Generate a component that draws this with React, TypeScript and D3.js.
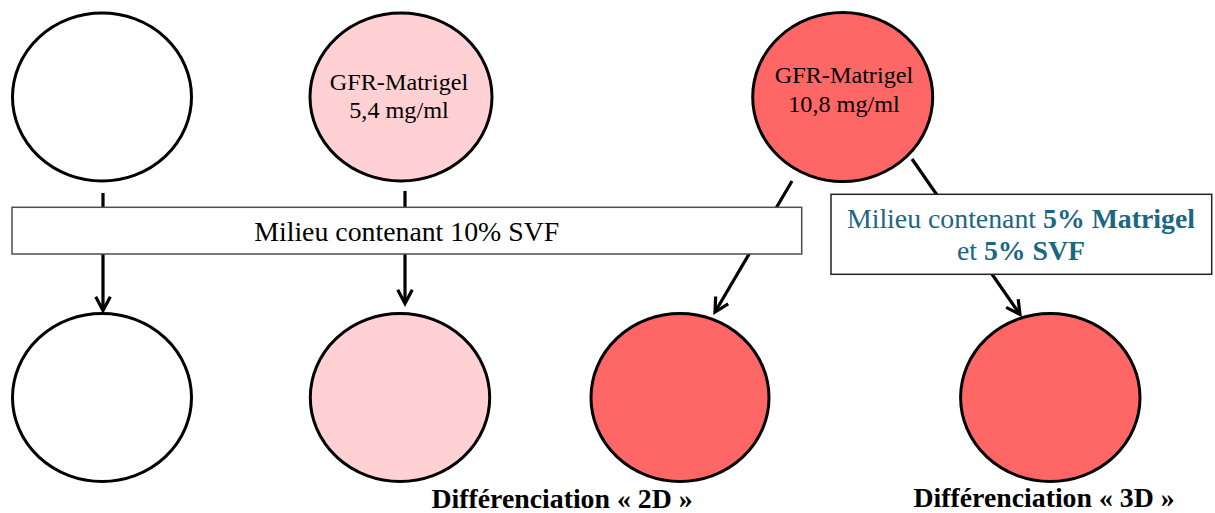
import React from "react";
import * as d3 from "d3";

// ---- content ----
const topLabels: string[][] = [[], ["GFR-Matrigel", "5,4 mg/ml"], ["GFR-Matrigel", "10,8 mg/ml"]];
const topFills = ["#FFFFFF", "#FFD1D4", "#FF6666"];
const bottomFills = ["#FFFFFF", "#FFD1D4", "#FF6666", "#FF6666"];
const box1Text = "Milieu contenant 10% SVF";
const box2Line1 = [{ t: "Milieu contenant ", b: false }, { t: "5% Matrigel", b: true }];
const box2Line2 = [{ t: "et ", b: false }, { t: "5% SVF", b: true }];
const bottomLabels = ["Différenciation « 2D »", "Différenciation « 3D »"];

// ---- layout ----
const W = 1215, H = 513;
const topCircles = [
  { cx: 102, cy: 97, rx: 89.5, ry: 84 },
  { cx: 401, cy: 97, rx: 91, ry: 84 },
  { cx: 842.7, cy: 97, rx: 90, ry: 84.5 },
];
const bottomCircles = [
  { cx: 102, cy: 397.5, rx: 89.5, ry: 84 },
  { cx: 400, cy: 397.5, rx: 89.7, ry: 84 },
  { cx: 680, cy: 397.5, rx: 89, ry: 84 },
  { cx: 1050.3, cy: 397.5, rx: 89.7, ry: 84 },
];
const arrows = [
  { x1: 103, y1: 193, x2: 103, y2: 310.5 },
  { x1: 405, y1: 191, x2: 405, y2: 303.5 },
  { x1: 792, y1: 181, x2: 715, y2: 312 },
  { x1: 912, y1: 159, x2: 1020, y2: 314.5 },
];
const topTextPos = [
  null,
  { x: 399, y: [89.5, 117.5] },
  { x: 844, y: [83.3, 111.7] },
];
const SX = 1.03;
const serif = "'Liberation Serif', 'Times New Roman', serif";
const teal = "#1B6684";

const line = d3.line<[number, number]>();

function Arrow({ a }: { a: { x1: number; y1: number; x2: number; y2: number } }) {
  const ang = Math.atan2(a.y2 - a.y1, a.x2 - a.x1);
  const L = 15.5, spread = (28 * Math.PI) / 180;
  const p1: [number, number] = [a.x2 - L * Math.cos(ang - spread), a.y2 - L * Math.sin(ang - spread)];
  const p2: [number, number] = [a.x2 - L * Math.cos(ang + spread), a.y2 - L * Math.sin(ang + spread)];
  return (
    <g stroke="#000" strokeWidth={3.2} fill="none">
      <path d={line([[a.x1, a.y1], [a.x2 - 1.5 * Math.cos(ang), a.y2 - 1.5 * Math.sin(ang)]]) || ""} />
      <path d={line([p1, [a.x2, a.y2], p2]) || ""} strokeLinejoin="miter" />
    </g>
  );
}

export default function App() {
  return (
    <div style={{ position: "absolute", left: 0, top: 0 }}>
      <svg width={W} height={H} viewBox={`0 0 ${W} ${H}`} style={{ display: "block", background: "#fff" }}>
        {arrows.map((a, i) => <Arrow key={i} a={a} />)}
        {/* box 1 */}
        <rect x={12} y={207.3} width={789.7} height={46.7} fill="#fff" stroke="#4d4d4d" strokeWidth={1.5} />
        <text transform={`translate(406.7,241) scale(${SX},1)`} textAnchor="middle" fontFamily={serif} fontSize={27} fill="#000">{box1Text}</text>
        {/* box 2 */}
        <rect x={831} y={194.3} width={380.7} height={80} fill="#fff" stroke="#222" strokeWidth={1.5} />
        <text transform={`translate(1021,227.5) scale(${SX},1)`} textAnchor="middle" fontFamily={serif} fontSize={27} fill={teal}>
          {box2Line1.map((s, i) => <tspan key={i} fontWeight={s.b ? "bold" : "normal"}>{s.t}</tspan>)}
        </text>
        <text transform={`translate(1021,260) scale(${SX},1)`} textAnchor="middle" fontFamily={serif} fontSize={27} fill={teal}>
          {box2Line2.map((s, i) => <tspan key={i} fontWeight={s.b ? "bold" : "normal"}>{s.t}</tspan>)}
        </text>
        {/* circles */}
        {topCircles.map((c, i) => (
          <ellipse key={"t" + i} cx={c.cx} cy={c.cy} rx={c.rx} ry={c.ry} fill={topFills[i]} stroke="#000" strokeWidth={3} />
        ))}
        {bottomCircles.map((c, i) => (
          <ellipse key={"b" + i} cx={c.cx} cy={c.cy} rx={c.rx} ry={c.ry} fill={bottomFills[i]} stroke="#000" strokeWidth={3} />
        ))}
        {topLabels.map((lines, i) => {
          const p = topTextPos[i];
          if (!p) return null;
          return lines.map((t, j) => (
            <text key={i + "-" + j} transform={`translate(${p.x},${p.y[j]}) scale(${SX},1)`} textAnchor="middle" fontFamily={serif} fontSize={23.5} fill="#000">{t}</text>
          ));
        })}
        <text transform={`translate(562,508) scale(${SX},1)`} textAnchor="middle" fontFamily={serif} fontWeight="bold" fontSize={27} fill="#000">{bottomLabels[0]}</text>
        <text transform={`translate(1044,507) scale(${SX},1)`} textAnchor="middle" fontFamily={serif} fontWeight="bold" fontSize={27} fill="#000">{bottomLabels[1]}</text>
      </svg>
    </div>
  );
}
